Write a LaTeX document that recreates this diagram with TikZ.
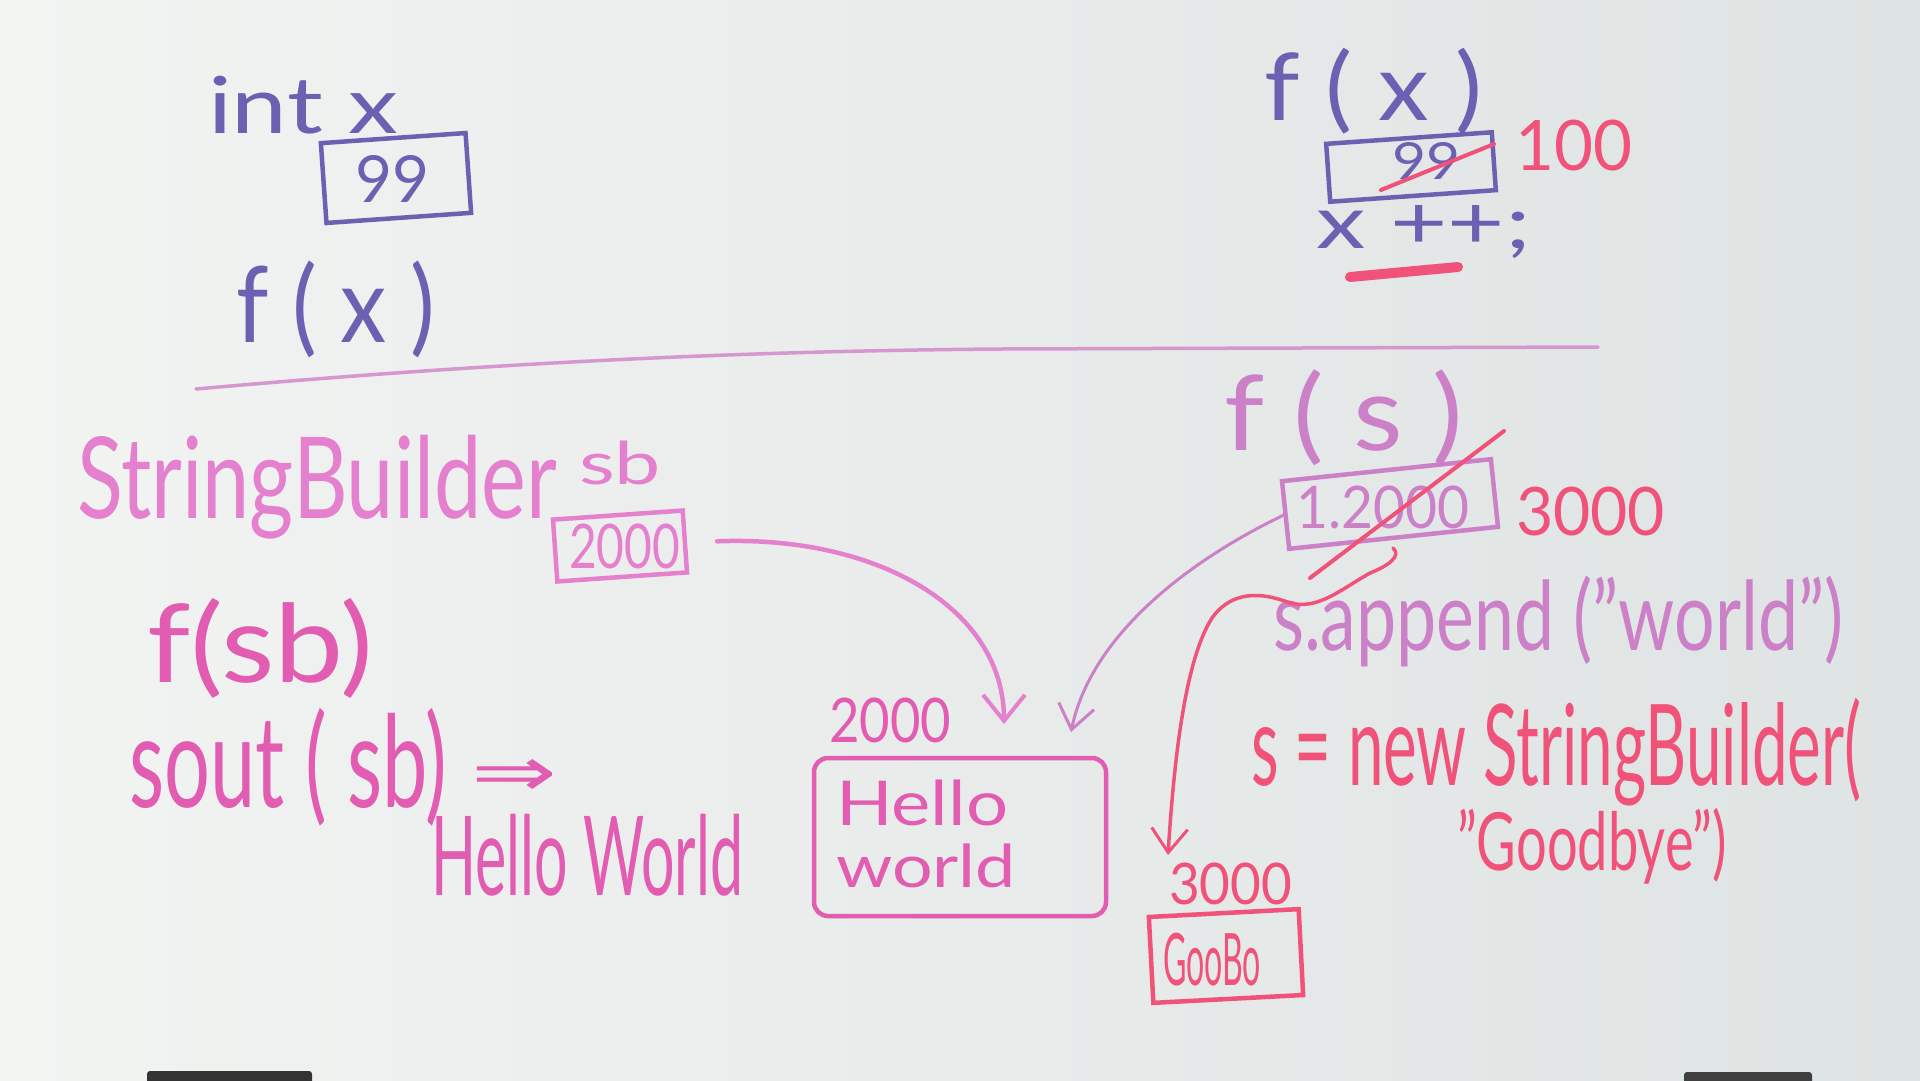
\documentclass[tikz,border=0pt]{standalone}
\usepackage{fontspec}
\setmainfont{Lato}
\newfontfamily\symfont{DejaVu Sans}
\usetikzlibrary{arrows.meta}
\newcommand\hw[3]{\resizebox*{#1pt}{#2pt}{#3}}
\definecolor{purp}{RGB}{108,96,178}
\definecolor{pinkl}{RGB}{228,128,205}
\definecolor{pinkm}{RGB}{226,92,178}
\definecolor{mauve}{RGB}{204,128,200}
\definecolor{hot}{RGB}{240,82,122}
\definecolor{divc}{RGB}{214,150,206}
\definecolor{bgl}{RGB}{242,244,242}
\definecolor{bgr}{RGB}{222,227,227}
\begin{document}
\begin{tikzpicture}[x=1pt,y=-1pt,
  txt/.style={anchor=north west, inner sep=0pt, outer sep=0pt},
  hbox/.style={draw, rectangle, inner sep=0pt, line width=4.5pt},
  arr/.style={-{Straight Barb[length=26pt,width=42pt,line width=4pt]}},
  thinarr/.style={-{Straight Barb[length=24pt,width=36pt,line width=3pt]}}]
\useasboundingbox (0,0) rectangle (1920,1080);
\shade[left color=bgl, right color=bgr] (0,0) rectangle (1920,1080);
% marker tray objects at bottom edge
\fill[black!80, rounded corners=3pt] (147,1071) rectangle (312,1086);
\fill[black!75, rounded corners=3pt] (1684,1072) rectangle (1812,1086);

% ---------- top left ----------
\node[txt, text=purp] (intx) at (208,76) {\hw{190}{58}{int x}};
\node[hbox, draw=purp, minimum width=145pt, minimum height=80pt, rotate=4] (b99) at (396,178) {};
\node[txt, text=purp] (v99) at (355,155) {\hw{74}{47}{99}};
\node[txt, text=purp] (fxl) at (236,261) {\hw{199}{97}{f ( x )}};

% divider
\draw[divc, line width=3.5pt, line cap=round] (196,389) .. controls (500,362) and (750,351) .. (1000,349) -- (1598,347);

% ---------- top right ----------
\node[txt, text=purp] (fxr) at (1264,48) {\hw{218}{86}{f ( x )}};
\node[hbox, draw=purp, minimum width=166pt, minimum height=58pt, rotate=4] (bfx) at (1411,167) {};
\node[txt, text=purp] (v99r) at (1392,142) {\hw{68}{37}{99}};
\draw[hot, line width=4pt, line cap=round] (1381,190) -- (1494,144);
\node[txt, text=hot] (v100) at (1515,120) {\hw{117}{51}{100}};
\node[txt, text=purp] (xpp) at (1316,205) {\hw{215}{53}{x ++;}};
\draw[hot, line width=10pt, line cap=round] (1350,277) -- (1458,267);

% ---------- bottom left ----------
\node[txt, text=pinkl] (sbtype) at (77,435) {\hw{480}{104}{StringBuilder}};
\node[txt, text=pinkl] (sbname) at (579,441) {\hw{82}{44}{sb}};
\node[hbox, draw=pinkl, minimum width=130pt, minimum height=62pt, rotate=4] (b2000) at (620,546) {};
\node[txt, text=pinkl] (v2000) at (569,524) {\hw{111}{45}{2000}};
\node[txt, text=pinkm] (fsb) at (147,598) {\hw{226}{100}{f(sb)}};
\node[txt, text=pinkm] (sout) at (129,708) {\hw{318}{118}{sout ( sb)}};
\node[txt, text=pinkm] (impl) at (471,759) {\hw{86}{37}{\symfont ⇒}};
\node[txt, text=pinkm] (hwout) at (431,814) {\hw{312}{82}{Hello World}};
\node[txt, text=pinkm] (lab2000) at (829,698) {\hw{122}{45}{2000}};
\node[hbox, draw=pinkm, minimum width=292pt, minimum height=158pt, rounded corners=14pt] (bhello) at (960,837) {};
\node[txt, text=pinkm] (hello) at (836,780) {\hw{172}{46}{Hello}};
\node[txt, text=pinkm] (world) at (836,844) {\hw{180}{44}{world}};

\coordinate (tip1) at (1004,724);
\draw[pinkl, line width=4.5pt, line cap=round, arr] ([xshift=30pt]b2000.east) .. controls (880,535) and (1004,610) .. (tip1);

% ---------- bottom right ----------
\node[txt, text=mauve] (fs) at (1224,370) {\hw{239}{96}{f ( s )}};
\node[hbox, draw=mauve, minimum width=210pt, minimum height=68pt, rotate=6] (bfs) at (1390,504) {};
\node[txt, text=mauve] (v12000) at (1296,486) {\hw{173}{43}{1.2000}};
\draw[hot, line width=4pt, line cap=round] (1504,431) -- (1310,578);
\node[txt, text=hot] (v3000) at (1516,487) {\hw{149}{49}{3000}};
\node[txt, text=mauve] (append) at (1273,576) {\hw{570}{91}{s.append ("world")}};
\node[txt, text=hot] (snew) at (1251,698) {\hw{610}{108}{s = new StringBuilder(}};
\node[txt, text=hot] (goodbye) at (1457,808) {\hw{270}{76}{"Goodbye")}};
\node[txt, text=hot] (v3000b) at (1169,863) {\hw{123}{42}{3000}};
\node[hbox, draw=hot, minimum width=150pt, minimum height=86pt, rotate=3] (bgb) at (1226,956) {};
\node[txt, text=hot] (gbtext) at (1163,933) {\hw{98}{53}{GooBo}};

\coordinate (tip2) at (1071,732);
\draw[mauve, line width=3pt, line cap=round, thinarr] (bfs.west) .. controls (1180,565) and (1090,640) .. (tip2);

\coordinate (hook3) at (1393,548);
\coordinate (tip3) at (1168,855);
\draw[hot, line width=3.5pt, line cap=round, thinarr] (hook3) .. controls (1402,556) and (1388,566) .. (1370,573)
  .. controls (1340,590) and (1318,610) .. (1290,603)
  .. controls (1262,592) and (1232,590) .. (1212,618)
  .. controls (1185,660) and (1174,760) .. (tip3);
\end{tikzpicture}
\end{document}
